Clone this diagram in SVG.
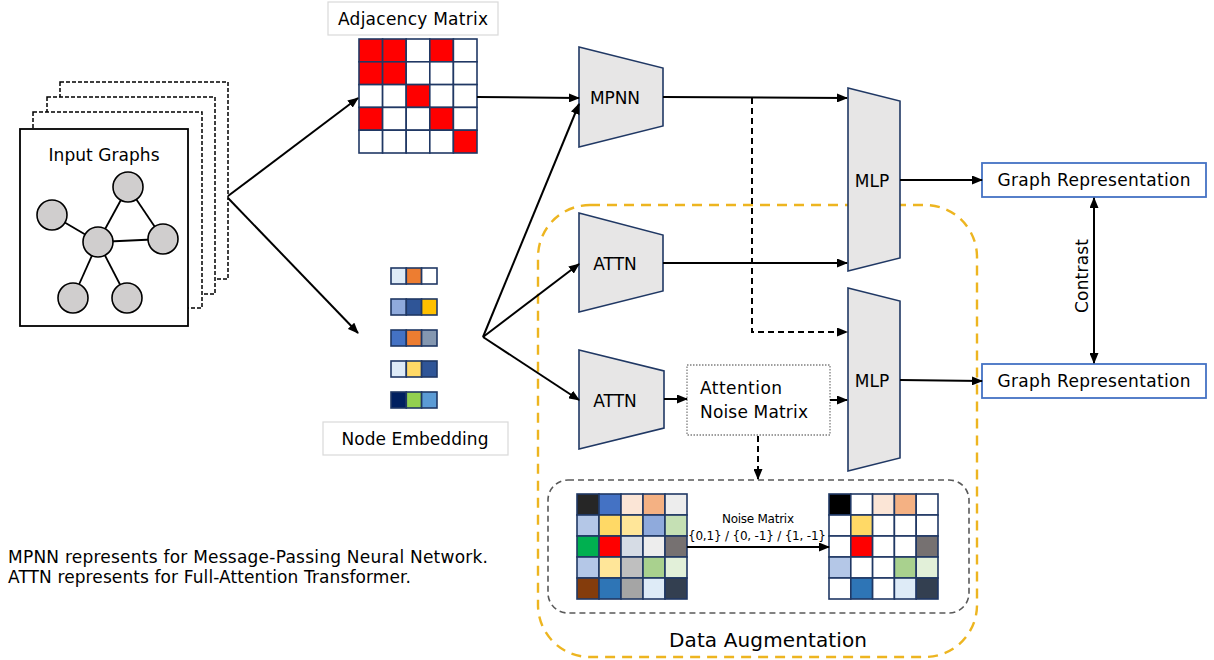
<svg xmlns="http://www.w3.org/2000/svg" width="1214" height="660" viewBox="0 0 1214 660">
<defs>
<marker id="ah" markerUnits="userSpaceOnUse" markerWidth="11" markerHeight="9" refX="10" refY="4.5" orient="auto-start-reverse"><path d="M0,0 L11,4.5 L0,9 z" fill="#000"/></marker>
</defs>
<style>
text{font-family:"DejaVu Sans","Noto Sans",sans-serif;fill:#000}
.lbl{font-size:17px}
.blk{font-size:17px;text-anchor:middle}
.trap{fill:#E7E6E6;stroke:#203864;stroke-width:1.6}
.gc{fill:#D0CECE;stroke:#000;stroke-width:1.6}
.ge{stroke:#000;stroke-width:1.8;fill:none}
.ln{stroke:#000;stroke-width:2;fill:none}
.ar{marker-end:url(#ah)}
.dsh{stroke-dasharray:6,4}
.cell{stroke:#203864;stroke-width:1.6}
.lay{fill:#fff;stroke:#000;stroke-width:1.5;stroke-dasharray:4,2}
.gbox{fill:#fff;stroke:#D9D9D9;stroke-width:1.2}
.rbox{fill:#fff;stroke:#4472C4;stroke-width:1.8}
</style>
<rect width="1214" height="660" fill="#fff"/>

<g id="data-augmentation">
<rect x="538" y="205" width="439" height="452" rx="52" fill="none" stroke="#EDB520" stroke-width="2.4" stroke-dasharray="10,7"/>
<text x="768" y="647" style="font-size:20px;text-anchor:middle" textLength="198">Data Augmentation</text>
</g>

<g id="input-graphs">
<rect class="lay" x="60" y="82" width="168" height="197"/>
<rect class="lay" x="47" y="97" width="168" height="197"/>
<rect class="lay" x="33" y="112" width="169" height="196"/>
<rect x="20" y="129" width="168" height="197" fill="#fff" stroke="#000" stroke-width="1.8"/>
<text x="104" y="161" class="blk" textLength="111">Input Graphs</text>
<line class="ge" x1="52" y1="215" x2="98" y2="242"/>
<line class="ge" x1="98" y1="242" x2="128" y2="187"/>
<line class="ge" x1="128" y1="187" x2="163" y2="239"/>
<line class="ge" x1="98" y1="242" x2="163" y2="239"/>
<line class="ge" x1="98" y1="242" x2="73" y2="298"/>
<line class="ge" x1="98" y1="242" x2="127" y2="298"/>
<circle class="gc" cx="128" cy="187" r="15"/>
<circle class="gc" cx="52" cy="215" r="15"/>
<circle class="gc" cx="98" cy="242" r="15"/>
<circle class="gc" cx="163" cy="239" r="15"/>
<circle class="gc" cx="73" cy="298" r="15"/>
<circle class="gc" cx="127" cy="298" r="15"/>
</g>

<g id="adjacency-matrix">
<rect class="gbox" x="328" y="2" width="170" height="33"/>
<text x="413" y="25" class="blk" textLength="150">Adjacency Matrix</text>
<g class="cell">
<rect x="359" y="39" width="23.6" height="22.8" fill="#FF0000"/><rect x="382.6" y="39" width="23.6" height="22.8" fill="#FF0000"/><rect x="406.2" y="39" width="23.6" height="22.8" fill="#fff"/><rect x="429.8" y="39" width="23.6" height="22.8" fill="#FF0000"/><rect x="453.4" y="39" width="23.6" height="22.8" fill="#fff"/>
<rect x="359" y="61.8" width="23.6" height="22.8" fill="#FF0000"/><rect x="382.6" y="61.8" width="23.6" height="22.8" fill="#FF0000"/><rect x="406.2" y="61.8" width="23.6" height="22.8" fill="#fff"/><rect x="429.8" y="61.8" width="23.6" height="22.8" fill="#fff"/><rect x="453.4" y="61.8" width="23.6" height="22.8" fill="#fff"/>
<rect x="359" y="84.6" width="23.6" height="22.8" fill="#fff"/><rect x="382.6" y="84.6" width="23.6" height="22.8" fill="#fff"/><rect x="406.2" y="84.6" width="23.6" height="22.8" fill="#FF0000"/><rect x="429.8" y="84.6" width="23.6" height="22.8" fill="#fff"/><rect x="453.4" y="84.6" width="23.6" height="22.8" fill="#fff"/>
<rect x="359" y="107.4" width="23.6" height="22.8" fill="#FF0000"/><rect x="382.6" y="107.4" width="23.6" height="22.8" fill="#fff"/><rect x="406.2" y="107.4" width="23.6" height="22.8" fill="#fff"/><rect x="429.8" y="107.4" width="23.6" height="22.8" fill="#FF0000"/><rect x="453.4" y="107.4" width="23.6" height="22.8" fill="#fff"/>
<rect x="359" y="130.2" width="23.6" height="22.8" fill="#fff"/><rect x="382.6" y="130.2" width="23.6" height="22.8" fill="#fff"/><rect x="406.2" y="130.2" width="23.6" height="22.8" fill="#fff"/><rect x="429.8" y="130.2" width="23.6" height="22.8" fill="#fff"/><rect x="453.4" y="130.2" width="23.6" height="22.8" fill="#FF0000"/>
</g>
</g>

<g id="node-embedding">
<g class="cell">
<rect x="391" y="268" width="15.3" height="16" fill="#DEEBF7"/><rect x="406.3" y="268" width="15.3" height="16" fill="#ED7D31"/><rect x="421.6" y="268" width="15.4" height="16" fill="#fff"/>
<rect x="391" y="299" width="15.3" height="16" fill="#8FAADC"/><rect x="406.3" y="299" width="15.3" height="16" fill="#2F5597"/><rect x="421.6" y="299" width="15.4" height="16" fill="#FFC000"/>
<rect x="391" y="330" width="15.3" height="16" fill="#4472C4"/><rect x="406.3" y="330" width="15.3" height="16" fill="#ED7D31"/><rect x="421.6" y="330" width="15.4" height="16" fill="#8497B0"/>
<rect x="391" y="361" width="15.3" height="16" fill="#DEEBF7"/><rect x="406.3" y="361" width="15.3" height="16" fill="#FFD966"/><rect x="421.6" y="361" width="15.4" height="16" fill="#2F5597"/>
<rect x="391" y="392" width="15.3" height="16" fill="#002060"/><rect x="406.3" y="392" width="15.3" height="16" fill="#92D050"/><rect x="421.6" y="392" width="15.4" height="16" fill="#5B9BD5"/>
</g>
<rect class="gbox" x="323" y="422" width="185" height="33"/>
<text x="415" y="445" class="blk" textLength="147">Node Embedding</text>
</g>

<g id="mpnn">
<polygon class="trap" points="579,47 663,68 663,126 579,147"/>
<text x="615" y="104" class="blk" textLength="50">MPNN</text>
</g>
<g id="attn-1">
<polygon class="trap" points="579,213 663,235 663,291 579,312"/>
<text x="615" y="270" class="blk">ATTN</text>
</g>
<g id="attn-2">
<polygon class="trap" points="579,350 664,371 664,428 579,449"/>
<text x="615" y="407" class="blk">ATTN</text>
</g>
<g id="mlp-1">
<polygon class="trap" points="848,88 900,101 900,258 848,271"/>
<text x="872" y="187" class="blk">MLP</text>
</g>
<g id="mlp-2">
<polygon class="trap" points="848,288 900,301 900,458 848,471"/>
<text x="872" y="387" class="blk">MLP</text>
</g>
<g id="attention-noise-matrix">
<rect x="687" y="365" width="143" height="70" fill="#fff" stroke="#7F7F7F" stroke-width="1.3" stroke-dasharray="1.5,1.5"/>
<text x="700" y="394" class="lbl" textLength="82">Attention</text>
<text x="700" y="418" class="lbl" textLength="108">Noise Matrix</text>
</g>

<g id="noise-example">
<rect x="548" y="480" width="421" height="133" rx="20" fill="none" stroke="#595959" stroke-width="1.6" stroke-dasharray="6,4"/>
<g class="cell">
<rect x="577" y="494" width="22" height="21" fill="#262626"/><rect x="599" y="494" width="22" height="21" fill="#4472C4"/><rect x="621" y="494" width="22" height="21" fill="#FBE5D6"/><rect x="643" y="494" width="22" height="21" fill="#F4B183"/><rect x="665" y="494" width="22" height="21" fill="#EDEDED"/>
<rect x="577" y="515" width="22" height="21" fill="#B4C7E7"/><rect x="599" y="515" width="22" height="21" fill="#FFD966"/><rect x="621" y="515" width="22" height="21" fill="#FFE699"/><rect x="643" y="515" width="22" height="21" fill="#8FAADC"/><rect x="665" y="515" width="22" height="21" fill="#C5E0B4"/>
<rect x="577" y="536" width="22" height="21" fill="#00B050"/><rect x="599" y="536" width="22" height="21" fill="#FF0000"/><rect x="621" y="536" width="22" height="21" fill="#D6DCE5"/><rect x="643" y="536" width="22" height="21" fill="#EDEDED"/><rect x="665" y="536" width="22" height="21" fill="#767171"/>
<rect x="577" y="557" width="22" height="21" fill="#B4C7E7"/><rect x="599" y="557" width="22" height="21" fill="#FFE699"/><rect x="621" y="557" width="22" height="21" fill="#BFBFBF"/><rect x="643" y="557" width="22" height="21" fill="#A9D18E"/><rect x="665" y="557" width="22" height="21" fill="#E2F0D9"/>
<rect x="577" y="578" width="22" height="21" fill="#843C0C"/><rect x="599" y="578" width="22" height="21" fill="#2E75B6"/><rect x="621" y="578" width="22" height="21" fill="#A5A5A5"/><rect x="643" y="578" width="22" height="21" fill="#DEEBF7"/><rect x="665" y="578" width="22" height="21" fill="#333F50"/>

<rect x="829" y="494" width="21.8" height="21" fill="#000"/><rect x="850.8" y="494" width="21.8" height="21" fill="#fff"/><rect x="872.6" y="494" width="21.8" height="21" fill="#FBE5D6"/><rect x="894.4" y="494" width="21.8" height="21" fill="#F4B183"/><rect x="916.2" y="494" width="21.8" height="21" fill="#fff"/>
<rect x="829" y="515" width="21.8" height="21" fill="#fff"/><rect x="850.8" y="515" width="21.8" height="21" fill="#FFD966"/><rect x="872.6" y="515" width="21.8" height="21" fill="#fff"/><rect x="894.4" y="515" width="21.8" height="21" fill="#fff"/><rect x="916.2" y="515" width="21.8" height="21" fill="#fff"/>
<rect x="829" y="536" width="21.8" height="21" fill="#fff"/><rect x="850.8" y="536" width="21.8" height="21" fill="#FF0000"/><rect x="872.6" y="536" width="21.8" height="21" fill="#fff"/><rect x="894.4" y="536" width="21.8" height="21" fill="#fff"/><rect x="916.2" y="536" width="21.8" height="21" fill="#767171"/>
<rect x="829" y="557" width="21.8" height="21" fill="#B4C7E7"/><rect x="850.8" y="557" width="21.8" height="21" fill="#fff"/><rect x="872.6" y="557" width="21.8" height="21" fill="#fff"/><rect x="894.4" y="557" width="21.8" height="21" fill="#A9D18E"/><rect x="916.2" y="557" width="21.8" height="21" fill="#E2F0D9"/>
<rect x="829" y="578" width="21.8" height="21" fill="#fff"/><rect x="850.8" y="578" width="21.8" height="21" fill="#2E75B6"/><rect x="872.6" y="578" width="21.8" height="21" fill="#fff"/><rect x="894.4" y="578" width="21.8" height="21" fill="#DEEBF7"/><rect x="916.2" y="578" width="21.8" height="21" fill="#333F50"/>
</g>
<text x="758" y="523" style="font-size:12px;text-anchor:middle" textLength="72">Noise Matrix</text>
<text x="757" y="540" style="font-size:12px;text-anchor:middle" textLength="138">{0,1} / {0, -1} / {1, -1}</text>
</g>

<g id="graph-rep-1">
<rect class="rbox" x="982" y="163" width="224" height="34"/>
<text x="1094" y="186" class="blk" textLength="193">Graph Representation</text>
</g>
<g id="graph-rep-2">
<rect class="rbox" x="982" y="364" width="224" height="34"/>
<text x="1094" y="387" class="blk" textLength="193">Graph Representation</text>
</g>

<g id="connectors">
<line class="ln ar" x1="228" y1="196" x2="358" y2="98"/>
<line class="ln ar" x1="228" y1="198" x2="358" y2="333"/>
<line class="ln ar" x1="477" y1="97" x2="579" y2="98"/>
<line class="ln ar" x1="483" y1="337" x2="579" y2="104"/>
<line class="ln ar" x1="483" y1="337" x2="579" y2="264"/>
<line class="ln ar" x1="483" y1="337" x2="579" y2="400"/>
<line class="ln ar" x1="663" y1="97" x2="847" y2="98"/>
<polyline class="ln ar dsh" points="752,98 752,332 847,332"/>
<line class="ln ar" x1="663" y1="263" x2="847" y2="263"/>
<line class="ln ar" x1="664" y1="399" x2="687" y2="399"/>
<line class="ln ar" x1="830" y1="400" x2="847" y2="400"/>
<line class="ln ar dsh" x1="758" y1="436" x2="758" y2="479"/>
<line class="ln ar" x1="687" y1="547" x2="829" y2="547"/>
<line class="ln ar" x1="900" y1="180" x2="982" y2="180"/>
<line class="ln ar" x1="900" y1="380" x2="982" y2="381"/>
<line class="ln" x1="1094" y1="198" x2="1094" y2="363" marker-start="url(#ah)" marker-end="url(#ah)"/>
<text transform="translate(1088,276) rotate(-90)" class="blk" textLength="74">Contrast</text>
</g>

<g id="legend">
<text x="8" y="563" class="lbl" textLength="480">MPNN represents for Message-Passing Neural Network.</text>
<text x="8" y="583" class="lbl" textLength="403">ATTN represents for Full-Attention Transformer.</text>
</g>
</svg>
